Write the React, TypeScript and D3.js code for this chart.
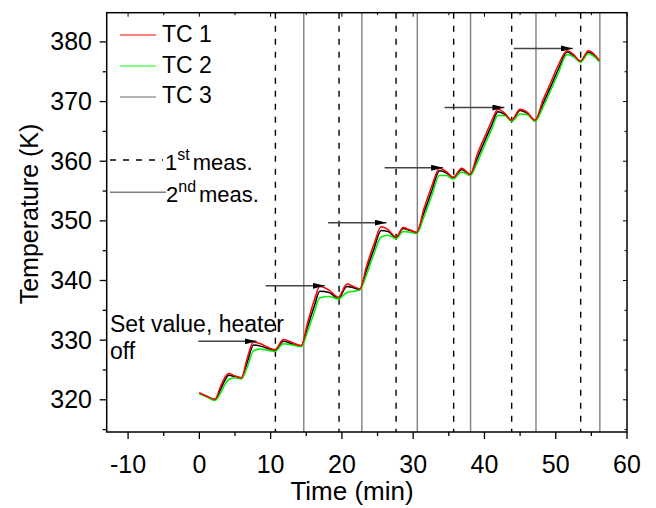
import React from 'react';
import * as d3 from 'd3';

// time axis (min) shared by the three thermocouples
const times = [0, 1, 2.2, 3, 3.6, 4.1, 5, 5.9, 6.7, 7.6, 8.6, 9.6, 10.6, 11.8, 13, 14.3, 15.2, 16.1, 16.9, 18.2, 19.5, 20.7, 21.6, 22.5, 23.5, 24.5, 25.5, 26.5, 27.6, 28.6, 29.5, 30.5, 31.5, 32.6, 33.7, 34.7, 35.6, 36.8, 38.0, 39.0, 40.0, 41.0, 41.9, 42.9, 43.8, 45.0, 46.0, 47.1, 48.2, 49.3, 50.4, 51.6, 52.5, 53.45, 54.6, 56.1];

const tc1 = [321.2, 320.6, 320.1, 322.3, 323.8, 324.4, 324.0, 323.7, 326.9, 329.7, 329.4, 328.8, 328.4, 330.1, 329.6, 329.1, 333.0, 336.6, 339.0, 338.4, 337.2, 339.4, 339.0, 338.6, 342.6, 346.1, 349.0, 348.5, 347.3, 348.9, 348.5, 348.1, 352.0, 355.8, 358.8, 358.2, 357.3, 358.8, 357.8, 361.2, 364.0, 366.7, 368.7, 368.0, 366.9, 368.7, 368.2, 366.9, 370.2, 373.2, 376.2, 378.5, 377.9, 376.8, 378.5, 376.9];
const tc2 = [321.0, 320.5, 319.9, 321.2, 322.6, 323.4, 323.7, 323.5, 325.4, 328.2, 328.5, 328.3, 328.1, 329.4, 329.2, 328.9, 331.5, 334.6, 337.1, 337.3, 336.9, 338.0, 338.2, 338.4, 341.1, 344.5, 347.3, 347.6, 347.0, 348.2, 348.1, 347.9, 350.6, 354.2, 357.6, 357.6, 357.0, 358.2, 357.6, 359.8, 362.6, 365.3, 367.7, 367.6, 366.7, 367.9, 367.8, 366.7, 369.0, 371.9, 374.9, 377.9, 377.5, 376.6, 378.0, 376.7];
const tc3 = [321.1, 320.6, 320.0, 321.8, 323.3, 324.1, 323.9, 323.6, 326.2, 329.2, 329.0, 328.6, 328.3, 329.8, 329.4, 329.0, 332.3, 335.6, 338.2, 338.0, 337.0, 339.0, 338.8, 338.5, 341.9, 345.3, 348.4, 348.2, 347.2, 348.7, 348.4, 348.0, 351.3, 355.0, 358.4, 358.0, 357.2, 358.6, 357.7, 360.5, 363.3, 366.0, 368.3, 367.8, 366.8, 368.5, 368.0, 366.8, 369.6, 372.5, 375.5, 378.3, 377.7, 376.7, 378.3, 376.8];

const firstMeas = [10.67, 19.6, 27.6, 35.68, 43.82, 53.5];
const secondMeas = [14.65, 22.8, 30.58, 38.05, 47.23, 56.19];

const arrowStart = [-0.15, 9.3, 18.07, 26.0, 34.4, 44.1];
const arrowEnd = [8.03, 17.6, 26.26, 34.2, 42.8, 52.4];
const arrowLevel = [329.8, 339.1, 349.7, 358.9, 369.0, 378.9];

const xTicks = [-10, 0, 10, 20, 30, 40, 50, 60];
const yTicks = [320, 330, 340, 350, 360, 370, 380];

const series = [
  { name: 'TC 1', values: tc1, color: '#ff0000', legend: '#ff0000' },
  { name: 'TC 2', values: tc2, color: '#00ee00', legend: '#00ff00' },
  { name: 'TC 3', values: tc3, color: '#000000', legend: '#666666' },
];

const font = '"Liberation Sans", Arial, sans-serif';

export default function App() {
  const left = 106.7, right = 627, top = 12.7, bottom = 432;
  const x = d3.scaleLinear().domain([-13, 60]).range([left, right]);
  const y = d3.scaleLinear().domain([314.6, 384.9]).range([bottom, top]);

  const line = d3.line<number>()
    .x((_, i) => x(times[i]))
    .y(d => y(d))
    .curve(d3.curveMonotoneX);

  const xMinor = d3.range(-10, 61, 5);
  const yMinor = d3.range(315, 385, 5);

  // draw order: black first, then green, red on top
  const drawOrder = [series[2], series[1], series[0]];

  return (
    <svg width={656} height={508} style={{ position: 'absolute', left: 0, top: 0 }} fontFamily={font}>
      <rect width={656} height={508} fill="#fff" />
      <defs>
        <marker id="head" viewBox="0 0 12 6" refX={12} refY={3} markerWidth={12} markerHeight={6} markerUnits="userSpaceOnUse" orient="auto">
          <path d="M0,0 L12,3 L0,6 Z" fill="#000" />
        </marker>
      </defs>

      {firstMeas.map((t, i) => (
        <line key={'d' + i} x1={x(t)} x2={x(t)} y1={top} y2={bottom} stroke="#000" strokeWidth={1.4} strokeDasharray="6,7" />
      ))}
      {secondMeas.map((t, i) => (
        <line key={'s' + i} x1={x(t)} x2={x(t)} y1={top} y2={bottom} stroke="#808080" strokeWidth={1.4} />
      ))}

      {drawOrder.map(s => (
        <path key={s.name} d={line(s.values) || ''} fill="none" stroke={s.color} strokeWidth={1.5} />
      ))}

      {arrowLevel.map((v, i) => (
        <line key={'a' + i} x1={x(arrowStart[i])} x2={x(arrowEnd[i])} y1={y(v)} y2={y(v)} stroke="#444" strokeWidth={1.5} markerEnd="url(#head)" />
      ))}

      {/* frame */}
      <rect x={left} y={top} width={right - left} height={bottom - top} fill="none" stroke="#000" strokeWidth={1.5} />

      {xMinor.map(t => {
        const major = t % 10 === 0;
        return (
          <g key={'xt' + t}>
            <line x1={x(t)} x2={x(t)} y1={bottom} y2={bottom + (major ? 7 : 4)} stroke="#000" strokeWidth={1.3} />
            <line x1={x(t)} x2={x(t)} y1={top} y2={top + (major ? 4 : 2.5)} stroke="#000" strokeWidth={1} />
          </g>
        );
      })}
      {yMinor.map(v => {
        const major = v % 10 === 0;
        return (
          <g key={'yt' + v}>
            <line x1={left} x2={left - (major ? 7 : 4)} y1={y(v)} y2={y(v)} stroke="#000" strokeWidth={1.3} />
            <line x1={right} x2={right - (major ? 4 : 2.5)} y1={y(v)} y2={y(v)} stroke="#000" strokeWidth={1} />
          </g>
        );
      })}

      {xTicks.map(t => (
        <text key={'xl' + t} x={x(t)} y={473} fontSize={25} textAnchor="middle">{t}</text>
      ))}
      {yTicks.map(v => (
        <text key={'yl' + v} x={92} y={y(v) + 8.5} fontSize={25} textAnchor="end">{v}</text>
      ))}

      <text x={352} y={500} fontSize={26} textAnchor="middle">Time (min)</text>
      <text transform="translate(37.5,214) rotate(-90)" fontSize={25} textAnchor="middle">Temperature (K)</text>

      {/* legend */}
      {series.map((s, i) => (
        <g key={'lg' + i}>
          <line x1={120} x2={156} y1={35 + i * 31} y2={35 + i * 31} stroke={s.legend} strokeWidth={1.2} />
          <text x={162} y={42 + i * 30.5} fontSize={23}>{s.name}</text>
        </g>
      ))}
      <line x1={110} x2={163} y1={160} y2={160} stroke="#000" strokeWidth={1.4} strokeDasharray="6,7" />
      <text x={165} y={170} fontSize={22}>1<tspan dy={-10} fontSize={16}>st</tspan><tspan dy={10} dx={3}>meas.</tspan></text>
      <line x1={110} x2={166} y1={192.3} y2={192.3} stroke="#808080" strokeWidth={1.4} />
      <text x={166} y={201.7} fontSize={22}>2<tspan dy={-10} fontSize={16}>nd</tspan><tspan dy={10} dx={3}>meas.</tspan></text>

      <text x={110} y={331.7} fontSize={23}>Set value, heater</text>
      <text x={110} y={359.3} fontSize={23}>off</text>
    </svg>
  );
}
